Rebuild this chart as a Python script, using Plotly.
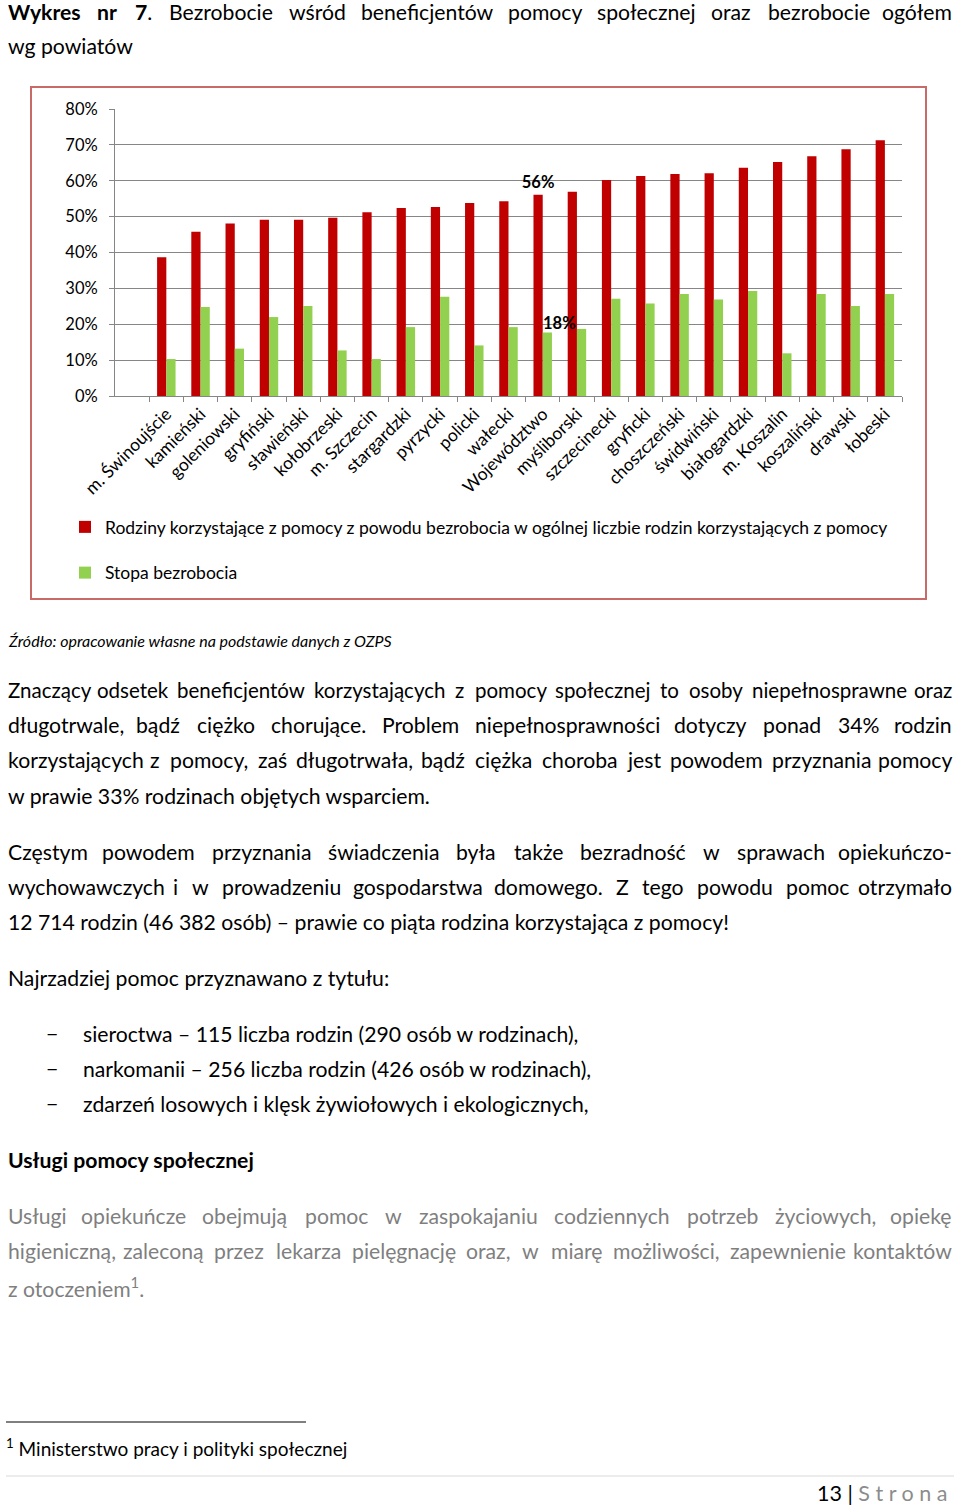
import plotly.graph_objects as go

W, H = 960, 1506
FONT = "Lato"
BODY = 21.2
CHART = 17.5

# ---------------- data ----------------
categories = ["m. Świnoujście", "kamieński", "goleniowski", "gryfiński", "sławieński",
              "kołobrzeski", "m. Szczecin", "stargardzki", "pyrzycki", "policki",
              "wałecki", "Województwo", "myśliborski", "szczecinecki", "gryficki",
              "choszczeński", "świdwiński", "białogardzki", "m. Koszalin",
              "koszaliński", "drawski", "łobeski"]
families_share = [0.387, 0.458, 0.481, 0.491, 0.491, 0.497, 0.512, 0.524, 0.527, 0.538,
                  0.543, 0.561, 0.569, 0.602, 0.613, 0.619, 0.621, 0.636, 0.652,
                  0.668, 0.688, 0.713]
unemployment_rate = [0.103, 0.248, 0.132, 0.220, 0.251, 0.127, 0.103, 0.192, 0.277, 0.141,
                     0.192, 0.177, 0.187, 0.271, 0.258, 0.284, 0.269, 0.293, 0.119,
                     0.284, 0.251, 0.284]
labelled_category = "Województwo"
y_ticks = [0, 0.1, 0.2, 0.3, 0.4, 0.5, 0.6, 0.7, 0.8]
y_tick_labels = ["0%", "10%", "20%", "30%", "40%", "50%", "60%", "70%", "80%"]
series_names = ["Rodziny korzystające z pomocy z powodu bezrobocia w ogólnej liczbie rodzin korzystających z pomocy",
                "Stopa bezrobocia"]

lab_idx = categories.index(labelled_category)
red_text = ["<b>%d%%</b>" % round(v * 100) if c == labelled_category else "" for c, v in zip(categories, families_share)]


def px(x):
    return x / W


def py(y):
    return 1 - y / H


fig = go.Figure()
fig.add_trace(go.Bar(x=categories, y=families_share, name=series_names[0],
                     marker=dict(color="#C00000", line=dict(width=0)),
                     text=red_text, textposition="outside", constraintext="none",
                     cliponaxis=False, textfont=dict(size=16.5, color="#000", family=FONT),
                     legendgroup="a"))
fig.add_trace(go.Bar(x=categories, y=unemployment_rate, name=series_names[1],
                     marker=dict(color="#92D050", line=dict(width=0)),
                     legendgroup="b"))
# data label of the green series, nudged right as in the original
fig.add_annotation(x=labelled_category, y=unemployment_rate[lab_idx], xref="x", yref="y",
                   text="<b>%d%%</b>" % round(unemployment_rate[lab_idx] * 100),
                   showarrow=False, xanchor="center", yanchor="bottom", xshift=17, yshift=-2,
                   font=dict(family=FONT, size=16.5, color="#000"))

# ---------------- text helpers ----------------
CW = {'a': .49, 'b': .55, 'c': .45, 'd': .55, 'e': .51, 'f': .32, 'g': .50, 'h': .55, 'i': .24,
      'j': .24, 'k': .50, 'l': .24, 'm': .82, 'n': .55, 'o': .55, 'p': .55, 'q': .55, 'r': .37,
      's': .41, 't': .34, 'u': .55, 'v': .50, 'w': .76, 'x': .48, 'y': .50, 'z': .44,
      'ł': .27, 'A': .68, 'B': .63, 'C': .66, 'D': .73, 'E': .55, 'F': .53, 'G': .71, 'H': .75,
      'I': .28, 'J': .38, 'K': .66, 'L': .50, 'M': .90, 'N': .75, 'O': .78, 'P': .60, 'R': .62,
      'S': .52, 'T': .58, 'U': .72, 'V': .68, 'W': 1.0, 'Y': .63, 'Z': .60,
      '.': .21, ',': .21, ':': .24, '!': .28, '-': .33, '%': .78, '(': .30, ')': .30}
TR = str.maketrans("ąćęńóśźżĄĆĘŃÓŚŹŻ", "acenoszzACENOSZZ")


def est(word, size, bold=False):
    w = 0.0
    for ch in word.translate(TR):
        if ch.isdigit():
            w += .58
        else:
            w += CW.get(ch, .55)
    w *= size
    return w * 1.05 if bold else w


def text(x, y, t, size=BODY, color="#000000", anchor="left"):
    fig.add_annotation(x=px(x), y=py(y), xref="paper", yref="paper", text=t,
                       showarrow=False, xanchor=anchor, yanchor="middle",
                       font=dict(family=FONT, size=size, color=color))


def justify(words, y, size=BODY, color="#000000", x0=6, x1=954, bold=()):
    plain = [w.replace("<b>", "").replace("</b>", "") for w in words]
    widths = [est(p, size, i in bold) for i, p in enumerate(plain)]
    gap = (x1 - x0 - sum(widths)) / (len(words) - 1)
    pos = x0
    for i, w in enumerate(words):
        if i == 0:
            text(x0, y, w, size, color, "left")
        elif i == len(words) - 1:
            text(x1, y, w, size, color, "right")
        else:
            text(pos + widths[i] / 2, y, w, size, color, "center")
        pos += widths[i] + gap


# ---------------- page text ----------------
justify(["<b>Wykres</b>", "<b>nr</b>", "<b>7</b>.", "Bezrobocie", "wśród", "beneficjentów", "pomocy",
         "społecznej", "oraz", "bezrobocie", "ogółem"], 12, bold=(0, 1, 2))
text(6, 46, "wg powiatów")

text(6, 640, "<i>Źródło: opracowanie własne na podstawie danych z OZPS</i>", 16)

justify("Znaczący odsetek beneficjentów korzystających z pomocy społecznej to osoby niepełnosprawne oraz".split(), 690, size=20.5)
justify("długotrwale, bądź ciężko chorujące. Problem niepełnosprawności dotyczy ponad 34% rodzin".split(), 725)
justify("korzystających z pomocy, zaś długotrwała, bądź ciężka choroba jest powodem przyznania pomocy".split(), 760)
text(6, 796, "w prawie 33% rodzinach objętych wsparciem.")

justify("Częstym powodem przyznania świadczenia była także bezradność w sprawach opiekuńczo-".split(), 852)
justify("wychowawczych i w prowadzeniu gospodarstwa domowego. Z tego powodu pomoc otrzymało".split(), 887)
text(6, 922, "12 714 rodzin (46 382 osób) – prawie co piąta rodzina korzystająca z pomocy!")

text(6, 978, "Najrzadziej pomoc przyznawano z tytułu:")
for yy, item in [(1034, "sieroctwa – 115 liczba rodzin (290 osób w rodzinach),"),
                 (1069, "narkomanii – 256 liczba rodzin (426 osób w rodzinach),"),
                 (1104, "zdarzeń losowych i klęsk żywiołowych i ekologicznych,")]:
    text(44, yy, "−")
    text(81, yy, item)

text(6, 1160, "<b>Usługi pomocy społecznej</b>")

GREY = "#7F7F7F"
justify("Usługi opiekuńcze obejmują pomoc w zaspokajaniu codziennych potrzeb życiowych, opiekę".split(), 1216, color=GREY)
justify("higieniczną, zaleconą przez lekarza pielęgnację oraz, w miarę możliwości, zapewnienie kontaktów".split(), 1251, color=GREY)
text(6, 1287, "z otoczeniem<sup>1</sup>.", color=GREY)

text(4, 1447, "<sup>1</sup> Ministerstwo pracy i polityki społecznej", 19)
text(949, 1493, "13 | <span style='color:#8C8C8C'>S t r o n a</span>", 21.5, anchor="right")

# ---------------- shapes ----------------
fig.add_shape(type="rect", xref="paper", yref="paper", x0=px(31), x1=px(926), y0=py(599), y1=py(87),
              line=dict(color="#C86A68", width=2), fillcolor="rgba(0,0,0,0)", layer="below")
fig.add_shape(type="line", xref="paper", yref="paper", x0=px(6), x1=px(306), y0=py(1422), y1=py(1422),
              line=dict(color="#000000", width=1))
fig.add_shape(type="line", xref="paper", yref="paper", x0=px(6), x1=px(954), y0=py(1476), y1=py(1476),
              line=dict(color="#D9D9D9", width=1))

AX = "#868686"
fig.update_layout(
    template="none",
    width=W, height=H, autosize=False,
    margin=dict(l=0, r=0, t=0, b=0, pad=0, autoexpand=False),
    paper_bgcolor="white", plot_bgcolor="white",
    font=dict(family=FONT, size=16, color="#000000"),
    barmode="group", bargap=0.46, bargroupgap=0,
    showlegend=True,
    legend=dict(x=px(65), y=py(509), xanchor="left", yanchor="top",
                orientation="v", font=dict(size=CHART, family=FONT), tracegroupgap=20,
                bgcolor="rgba(0,0,0,0)", borderwidth=0, itemclick=False, itemwidth=30),
    xaxis=dict(domain=[px(115), px(902)], type="category", range=[-1.5, len(categories) - 0.5],
               tickson="boundaries", ticks="outside", ticklen=5, tickcolor=AX,
               showline=True, linecolor=AX, linewidth=1, showgrid=False, automargin=False,
               tickangle=-45, tickfont=dict(size=CHART, family=FONT, color="#000")),
    yaxis=dict(domain=[py(396), py(109)], range=[0, 0.8], tickvals=y_ticks, ticktext=y_tick_labels,
               showgrid=True, gridcolor=AX, gridwidth=1, ticks="outside", ticklen=5, tickcolor=AX,
               showline=True, linecolor=AX, linewidth=1, zeroline=False, automargin=False,
               ticklabelstandoff=8, tickfont=dict(size=16.5, family=FONT, color="#000")),
)

fig.write_html("out.html")
